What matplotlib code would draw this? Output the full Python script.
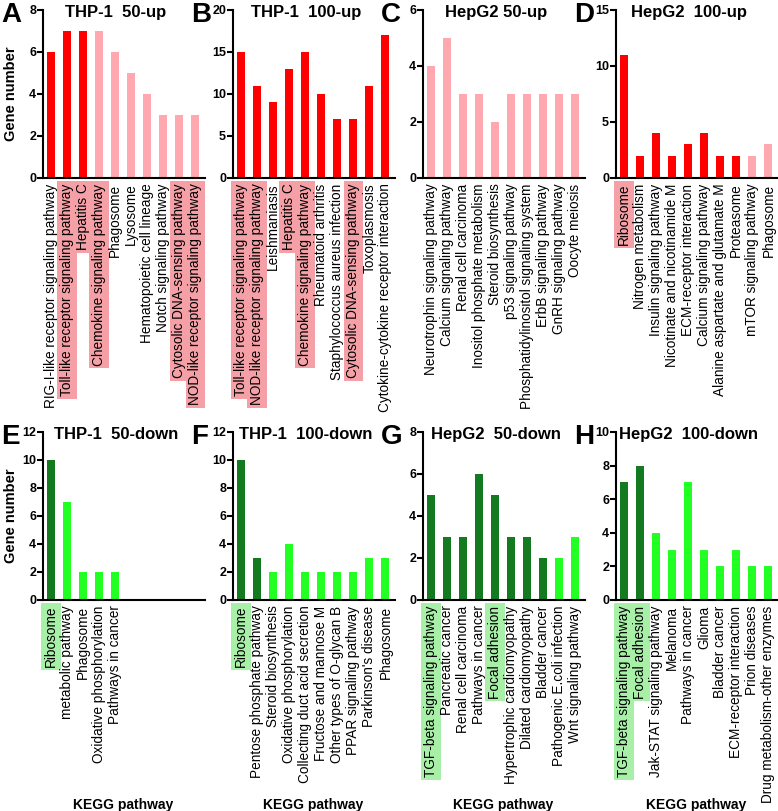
import matplotlib.pyplot as plt

plt.rcParams['font.family'] = ['Liberation Sans', 'DejaVu Sans']

# ---- data ----
a_labels = ["RIG-I-like receptor signaling pathway", "Toll-like receptor signaling pathway",
            "Hepatitis C", "Chemokine signaling pathway", "Phagosome", "Lysosome",
            "Hematopoietic cell lineage", "Notch signaling pathway",
            "Cytosolic DNA-sensing pathway", "NOD-like receptor signaling pathway"]
a_values = [6, 7, 7, 7, 6, 5, 4, 3, 3, 3]
a_strong = [1, 1, 1, 0, 0, 0, 0, 0, 0, 0]
a_marked = [0, 1, 1, 1, 0, 0, 0, 0, 1, 1]

b_labels = ["Toll-like receptor signaling pathway", "NOD-like receptor signaling pathway",
            "Leishmaniasis", "Hepatitis C", "Chemokine signaling pathway", "Rheumatoid arthritis",
            "Staphylococcus aureus infection", "Cytosolic DNA-sensing pathway", "Toxoplasmosis",
            "Cytokine-cytokine receptor interaction"]
b_values = [15, 11, 9, 13, 15, 10, 7, 7, 11, 17]
b_strong = [1, 1, 1, 1, 1, 1, 1, 1, 1, 1]
b_marked = [1, 1, 0, 1, 1, 0, 0, 1, 0, 0]

c_labels = ["Neurotrophin signaling pathway", "Calcium signaling pathway", "Renal cell carcinoma",
            "Inositol phosphate metabolism", "Steroid biosynthesis", "p53 signaling pathway",
            "Phosphatidylinositol signaling system", "ErbB signaling pathway",
            "GnRH signaling pathway", "Oocyte meiosis"]
c_values = [4, 5, 3, 3, 2, 3, 3, 3, 3, 3]
c_strong = [0, 0, 0, 0, 0, 0, 0, 0, 0, 0]
c_marked = [0, 0, 0, 0, 0, 0, 0, 0, 0, 0]

d_labels = ["Ribosome", "Nitrogen metabolism", "Insulin signaling pathway",
            "Nicotinate and nicotinamide M", "ECM-receptor interaction", "Calcium signaling pathway",
            "Alanine aspartate and glutamate M", "Proteasome", "mTOR signaling pathway", "Phagosome"]
d_values = [11, 2, 4, 2, 3, 4, 2, 2, 2, 3]
d_strong = [1, 1, 1, 1, 1, 1, 1, 1, 0, 0]
d_marked = [1, 0, 0, 0, 0, 0, 0, 0, 0, 0]

e_labels = ["Ribosome", "metabolic pathway", "Phagosome", "Oxidative phosphorylation",
            "Pathways in cancer"]
e_values = [10, 7, 2, 2, 2]
e_strong = [1, 0, 0, 0, 0]
e_marked = [1, 0, 0, 0, 0]

f_labels = ["Ribosome", "Pentose phosphate pathway", "Steroid biosynthesis",
            "Oxidative phosphorylation", "Collecting duct acid secretion", "Fructose and mannose M",
            "Other types of O-glycan B", "PPAR signaling pathway", "Parkinson's disease", "Phagosome"]
f_values = [10, 3, 2, 4, 2, 2, 2, 2, 3, 3]
f_strong = [1, 1, 0, 0, 0, 0, 0, 0, 0, 0]
f_marked = [1, 0, 0, 0, 0, 0, 0, 0, 0, 0]

g_labels = ["TGF-beta signaling pathway", "Pancreatic cancer", "Renal cell carcinoma",
            "Pathways in cancer", "Focal adhesion", "Hypertrophic cardiomyopathy",
            "Dilated cardiomyopathy", "Bladder cancer", "Pathogenic E.coli infection",
            "Wnt signaling pathway"]
g_values = [5, 3, 3, 6, 5, 3, 3, 2, 2, 3]
g_strong = [1, 1, 1, 1, 1, 1, 1, 1, 0, 0]
g_marked = [1, 0, 0, 0, 1, 0, 0, 0, 0, 0]

h_labels = ["TGF-beta signaling pathway", "Focal adhesion", "Jak-STAT signaling pathway",
            "Melanoma", "Pathways in cancer", "Glioma", "Bladder cancer",
            "ECM-receptor interaction", "Prion diseases", "Drug metabolism-other enzymes"]
h_values = [7, 8, 4, 3, 7, 3, 2, 3, 2, 2]
h_strong = [1, 1, 0, 0, 0, 0, 0, 0, 0, 0]
h_marked = [1, 1, 0, 0, 0, 0, 0, 0, 0, 0]

panels = [
    ("A", "THP-1  50-up", a_labels, a_values, a_strong, a_marked, 8, 2, "up"),
    ("B", "THP-1  100-up", b_labels, b_values, b_strong, b_marked, 20, 5, "up"),
    ("C", "HepG2 50-up", c_labels, c_values, c_strong, c_marked, 6, 2, "up"),
    ("D", "HepG2  100-up", d_labels, d_values, d_strong, d_marked, 15, 5, "up"),
    ("E", "THP-1  50-down", e_labels, e_values, e_strong, e_marked, 12, 2, "down"),
    ("F", "THP-1  100-down", f_labels, f_values, f_strong, f_marked, 12, 2, "down"),
    ("G", "HepG2  50-down", g_labels, g_values, g_strong, g_marked, 8, 2, "down"),
    ("H", "HepG2  100-down", h_labels, h_values, h_strong, h_marked, 10, 2, "down"),
]

colors = {
    "up": ("#ff0000", "#ffa8b0", "#f5a0a6"),
    "down": ("#137a1f", "#22ff22", "#a8f0a8"),
}

W, H = 778, 811
fig = plt.figure(figsize=(W / 100, H / 100), dpi=100)

lefts = [43, 233, 423, 616]
for i, (letter, title, labels, values, strong, marked, ymax, step, kind) in enumerate(panels):
    row, col = divmod(i, 4)
    top_px = 10 if row == 0 else 432
    ax = fig.add_axes([lefts[col] / W, 1 - (top_px + 168) / H, 162 / W, 168 / H])
    dark, light, mark = colors[kind]
    x = list(range(len(values)))
    bar_colors = [dark if s else light for s in strong]
    ax.bar(x, values, width=0.5, color=bar_colors)
    ax.set_xlim(-0.5, 9.6)
    ax.set_ylim(0, ymax)
    ax.set_yticks(range(0, ymax + 1, step))
    for side in ("top", "right"):
        ax.spines[side].set_visible(False)
    ax.spines["left"].set_linewidth(1.5)
    ax.spines["bottom"].set_linewidth(1.5)
    ax.tick_params(axis="y", length=4, width=1.5, pad=1, labelsize=9)
    for t in ax.get_yticklabels():
        t.set_fontweight("bold")
    ax.set_xticks(x)
    ax.set_xticklabels(labels, rotation=90, fontsize=9.8)
    ax.tick_params(axis="x", length=0, pad=4)
    for t, m in zip(ax.get_xticklabels(), marked):
        if m:
            t.set_bbox(dict(boxstyle="square,pad=0.2", facecolor=mark, edgecolor="none"))
    ax.text(0.45, 0.985, title, transform=ax.transAxes, ha="center", va="center",
            fontsize=12, fontweight="bold")
    fig.text((lefts[col] - 42) / W, 1 - (top_px + 5) / H, letter, ha="left", va="center",
             fontsize=20, fontweight="bold")
    if col == 0:
        ax.set_ylabel("Gene number", fontsize=10.5, fontweight="bold")
        ax.yaxis.set_label_coords(-25 / 162, 0.5)
    if row == 1:
        fig.text((lefts[col] + 80) / W, 1 - 805 / H, "KEGG pathway", ha="center", va="center",
                 fontsize=10, fontweight="bold")

fig.savefig("out.png", dpi=100)
